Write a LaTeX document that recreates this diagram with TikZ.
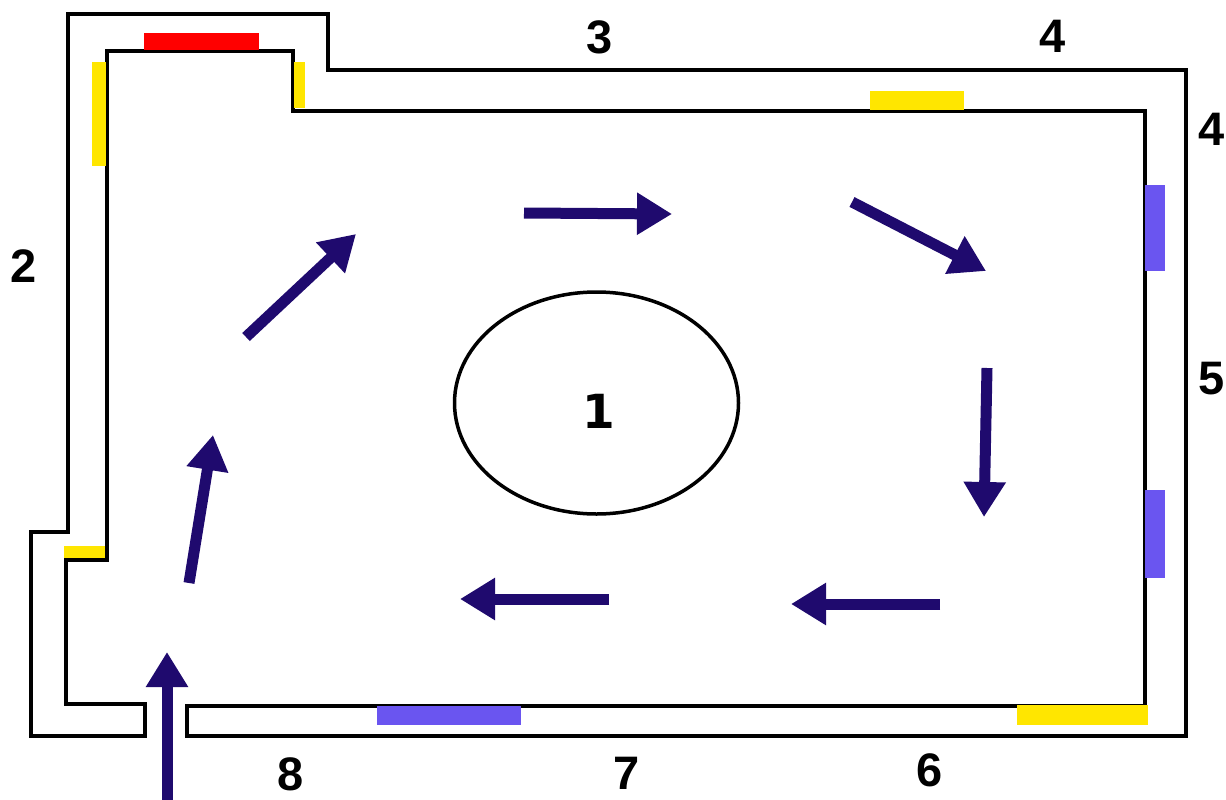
\documentclass[tikz,border=0pt]{standalone}
\usepackage{fontspec}
\setmainfont{Liberation Sans}
\newfontfamily\hubfont{DejaVu Sans}
\usetikzlibrary{arrows.meta,shapes.geometric}
\definecolor{navy}{HTML}{1F0A6E}
\definecolor{ylw}{HTML}{FFE600}
\definecolor{blu}{HTML}{6A55F0}
\definecolor{rd}{HTML}{FF0000}
\tikzset{
 x=1pt,y=-1pt,
 wall/.style={draw=black,line width=4pt,miter limit=10},
 flow/.style={draw=navy,line width=11pt,-{Triangle[length=35pt,width=40pt,fill=navy]}},
 lbl/.style={font=\bfseries\fontsize{47}{47}\selectfont,text=black,inner sep=0pt},
}
\begin{document}
\begin{tikzpicture}
\useasboundingbox (0,0) rectangle (1226,800);
% walls
\draw[wall] (145,736) -- (31,736) -- (31,532) -- (68,532) -- (68,14) -- (328,14) -- (328,70) -- (1186,70) -- (1186,736) -- (187,736) -- (187,706) -- (1145,706) -- (1145,111) -- (293,111) -- (293,51) -- (107,51) -- (107,560) -- (66,560) -- (66,704) -- (145,704) -- cycle;
% patches
\fill[rd] (144,33) rectangle (259,50);
\fill[ylw] (92,62) rectangle (106,166);
\fill[ylw] (294,62) rectangle (305,108);
\fill[ylw] (870,91) rectangle (964,110);
\fill[ylw] (64,546) rectangle (105,558);
\fill[ylw] (1017,705) rectangle (1148,725);
\fill[blu] (1145,185) rectangle (1165,271);
\fill[blu] (1145,490) rectangle (1165,578);
\fill[blu] (377,706) rectangle (521,725);
% ellipse
\node[draw=black,line width=3.5pt,ellipse,minimum width=284pt,minimum height=222pt,inner sep=0pt] (hub) at (596.5,403) {};
\node[lbl,font=\hubfont\bfseries\fontsize{47}{47}\selectfont] (n1) at (599,411) {1};
\node[lbl] (n2) at (24,266) {2};
\node[lbl] (n3) at (600,37) {3};
\node[lbl] (n4a) at (1053,36) {4};
\node[lbl] (n4b) at (1212,129) {4};
\node[lbl] (n5) at (1212,379) {5};
\node[lbl] (n6) at (930,770) {6};
\node[lbl] (n7) at (627,773) {7};
\node[lbl] (n8) at (291,774) {8};
% arrows
\coordinate (a0) at (167,800); \coordinate (a1) at (167,652);
\coordinate (b0) at (189,583); \coordinate (b1) at (213,435);
\coordinate (c0) at (246,337); \coordinate (c1) at (356,234);
\coordinate (d0) at (524,213); \coordinate (d1) at (672,214);
\coordinate (e0) at (852,202); \coordinate (e1) at (986,271);
\coordinate (f0) at (987,368); \coordinate (f1) at (984,517);
\coordinate (g0) at (940,604); \coordinate (g1) at (791,604);
\coordinate (h0) at (609,599); \coordinate (h1) at (460,599);
\foreach \p/\q in {a0/a1,b0/b1,c0/c1,d0/d1,e0/e1,f0/f1,g0/g1,h0/h1} \draw[flow] (\p) -- (\q);
\end{tikzpicture}
\end{document}
